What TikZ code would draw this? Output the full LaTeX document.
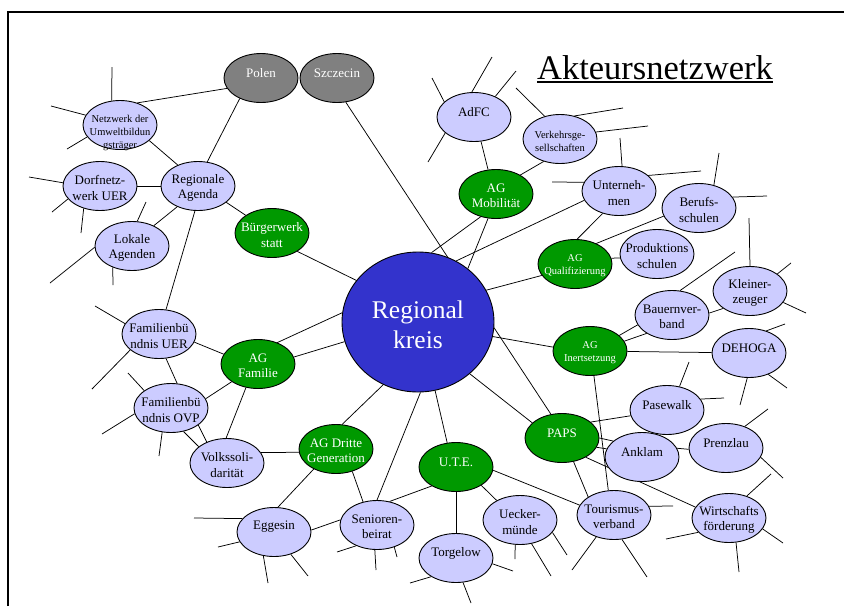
\documentclass[tikz,border=0pt]{standalone}
\usepackage{fontspec}
\setmainfont{Liberation Serif}
\usetikzlibrary{shapes.geometric,backgrounds}
\definecolor{lav}{RGB}{204,204,255}
\definecolor{grn}{RGB}{0,153,0}
\definecolor{gry}{RGB}{128,128,128}
\definecolor{rblue}{RGB}{51,51,204}
\newcommand\fbig{\fontsize{13pt}{15.5pt}\selectfont}
\newcommand\fsmall{\fontsize{10.5pt}{13pt}\selectfont}
\newcommand\stubto[4]{\coordinate (#1) at (#4); \draw[ln] (#2.#3) -- (#1);}
\begin{document}
\begin{tikzpicture}[x=1pt,y=-1pt,
  base/.style={ellipse, draw=black, line width=0.9pt, minimum width=74pt, minimum height=49pt, inner sep=0pt},
  lav/.style={base, fill=lav},
  grn/.style={base, fill=grn},
  gry/.style={base, fill=gry},
  tk/.style={align=center, font=\fbig, text=black},
  tks/.style={align=center, font=\fsmall, text=black},
  tw/.style={align=center, font=\fbig, text=white},
  tws/.style={align=center, font=\fsmall, text=white},
  one/.style={yshift=5pt},
  two/.style={yshift=-2pt},
  ln/.style={line width=0.75pt}]
\useasboundingbox (0,0) rectangle (844,606);
\draw[line width=2pt] (8,606) -- (8,12) -- (844,12);

\node[anchor=base, font=\fontsize{34.5pt}{40pt}\selectfont] (title) at (655,79)
  {\setbox0\hbox{Akteursnetzwerk}\rlap{\rule[-3.8pt]{\wd0}{1.6pt}}\box0};

\node[gry,label={[tw,one]center:Polen}] (polen) at (261,78) {};
\node[gry,label={[tw,one]center:Szczecin}] (szc) at (337,78) {};
\node[lav,label={[tks,yshift=-8pt]center:Netzwerk der\\Umweltbildun\\gsträger}] (netz) at (120,125) {};
\node[lav,label={[tk,two]center:Dorfnetz-\\werk UER}] (dorf) at (100,186) {};
\node[lav,label={[tk,two]center:Regionale\\Agenda}] (ra) at (198,186) {};
\node[lav,label={[tk,two]center:Lokale\\Agenden}] (lok) at (132,246) {};
\node[grn,label={[tw,two]center:Bürgerwerk\\statt}] (bw) at (272,233) {};
\node[ellipse, draw=black, line width=0.9pt, fill=rblue, minimum width=152pt, minimum height=140pt, inner sep=0pt,
  label={[align=center, text=white, font=\fontsize{25.5pt}{30pt}\selectfont, yshift=-2.5pt]center:Regional\\kreis}] (rk) at (418,322) {};
\node[lav,label={[tk,one]center:AdFC}] (adfc) at (474,117) {};
\node[lav,label={[tks,two]center:Verkehrsge-\\sellschaften}] (vg) at (560,139) {};
\node[grn,label={[tw,two]center:AG\\Mobilität}] (mob) at (496,194) {};
\node[lav,label={[tk,two]center:Unterneh-\\men}] (unt) at (619,191) {};
\node[lav,label={[tk,two]center:Berufs-\\schulen}] (beruf) at (699,208) {};
\node[grn,label={[tws,two]center:AG\\Qualifizierung}] (qual) at (575,264) {};
\node[lav,label={[tk,two]center:Produktions\\schulen}] (prod) at (657,254) {};
\node[lav,label={[tk,two]center:Kleiner-\\zeuger}] (klein) at (750,291) {};
\node[lav,label={[tk,two]center:Bauernver-\\band}] (bauer) at (672,315) {};
\node[grn,label={[tws,two]center:AG\\Inertsetzung}] (inert) at (590,351) {};
\node[lav,label={[tk,one]center:DEHOGA}] (dehoga) at (749,353) {};
\node[lav,label={[tk,one]center:Pasewalk}] (pase) at (667,410) {};
\node[grn,label={[tw,one]center:PAPS}] (paps) at (562,438) {};
\node[lav,label={[tk,one]center:Anklam}] (ankl) at (642,457) {};
\node[lav,label={[tk,one]center:Prenzlau}] (prenz) at (726,448) {};
\node[grn,label={[tw,one]center:U.T.E.}] (ute) at (456,467) {};
\node[lav,label={[tk,two]center:Tourismus-\\verband}] (tour) at (614,515) {};
\node[lav,label={[tk,two]center:Wirtschafts\\förderung}] (wirt) at (729,518) {};
\node[lav,label={[tk,two]center:Uecker-\\münde}] (ueck) at (520,520) {};
\node[lav,label={[tk,one]center:Torgelow}] (torg) at (456,558) {};
\node[lav,label={[tk,two]center:Familienbü\\ndnis UER}] (fuer) at (159,334) {};
\node[grn,label={[tw,two]center:AG\\Familie}] (agf) at (258,364) {};
\node[lav,label={[tk,two]center:Familienbü\\ndnis OVP}] (fovp) at (171,408) {};
\node[lav,label={[tk,two]center:Volkssoli-\\darität}] (volk) at (227,463) {};
\node[grn,label={[tw,two]center:AG Dritte\\Generation}] (dritte) at (336,449) {};
\node[lav,label={[tk,one]center:Eggesin}] (egg) at (274,532) {};
\node[lav,label={[tk,two]center:Senioren-\\beirat}] (sen) at (377,525) {};

\begin{scope}[on background layer]
\draw[ln] (netz.52) -- (polen.197);
\draw[ln] (polen.224) -- (ra.69);
\draw[ln] (netz.332) -- (ra.134);
\draw[ln] (dorf) -- (ra);
\draw[ln] (lok.43) -- (ra.225);
\draw[ln] (ra.330) -- (bw.146);
\draw[ln] (ra.263) -- (fuer.74);
\draw[ln] (szc.290) -- (paps.115);
\draw[ln] (bw.324) -- (rk.146);
\draw[ln] (adfc.286) -- (mob.108);
\draw[ln] (vg.234) -- (mob.38);
\draw[ln] (mob.236) -- (rk.79);
\draw[ln] (mob.252) -- (rk.47);
\draw[ln] (unt.195) -- (rk.58);
\draw[ln] (qual.199) -- (rk.25);
\draw[ln] (qual.85) -- (unt.234);
\draw[ln] (qual.44) -- (beruf.193);
\draw[ln] (qual.9) -- (prod.186);
\draw[ln] (bauer.3) -- (klein.213);
\draw[ln] (inert.28) -- (bauer.196);
\draw[ln] (inert.16) -- (bauer.216);
\draw[ln] (inert) -- (dehoga);
\draw[ln] (inert.174) -- (rk.349);
\draw[ln] (rk.315) -- (paps.153);
\draw[ln] (inert.279) -- (tour.103);
\draw[ln] (paps.29) -- (pase.189);
\draw[ln] (paps.0) -- (ankl.151);
\draw[ln] (paps.345) -- (ankl.167);
\draw[ln] (paps.321) -- (wirt.162);
\draw[ln] (paps.296) -- (tour.145);
\draw[ln] (ute.355) -- (tour.164);
\draw[ln] (ankl.14) -- (prenz.182);
\draw[ln] (ute.324) -- (ueck.140);
\draw[ln] (ute) -- (torg);
\draw[ln] (ute.110) -- (rk.284);
\draw[ln] (ute.218) -- (sen.62);
\draw[ln] (rk.272) -- (sen.90);
\draw[ln] (rk.241) -- (dritte.76);
\draw[ln] (dritte.185) -- (volk.17);
\draw[ln] (dritte.222) -- (egg.81);
\draw[ln] (dritte.306) -- (sen.121);
\draw[ln] (egg.3) -- (sen.172);
\draw[ln] (agf.48) -- (rk.173);
\draw[ln] (agf.11) -- (rk.195);
\draw[ln] (fuer.347) -- (agf.164);
\draw[ln] (fuer.286) -- (fovp.76);
\draw[ln] (agf.214) -- (fovp.15);
\draw[ln] (agf.243) -- (volk.92);
\draw[ln] (fovp.298) -- (volk.150);
\draw[ln] (fovp.328) -- (volk.134);

\stubto{s1}{adfc}{153}{432,78}
\stubto{s2}{adfc}{95}{492,57}
\stubto{s3}{adfc}{44}{516,71}
\stubto{s4}{adfc}{209}{428,162}
\stubto{s5}{vg}{124}{516,88}
\stubto{s6}{vg}{58}{623,108}
\stubto{s7}{vg}{11}{648,126}
\stubto{s8}{unt}{83}{620,138}
\stubto{s9}{unt}{28}{701,171}
\stubto{s10}{unt}{166}{552,182}
\stubto{s11}{beruf}{57}{719,153}
\stubto{s12}{beruf}{18}{767,196}
\stubto{s13}{klein}{90}{749,218}
\stubto{s14}{klein}{32}{791,263}
\stubto{s15}{klein}{341}{806,313}
\stubto{s16}{bauer}{72}{735,252}
\stubto{s17}{dehoga}{52}{785,324}
\stubto{s18}{dehoga}{312}{787,388}
\stubto{s19}{dehoga}{266}{740,405}
\stubto{s20}{pase}{62}{689,362}
\stubto{s21}{pase}{18}{724,398}
\stubto{s22}{prenz}{49}{768,409}
\stubto{s23}{prenz}{345}{783,478}
\stubto{s24}{wirt}{51}{771,474}
\stubto{s25}{wirt}{342}{783,543}
\stubto{s26}{wirt}{286}{739,572}
\stubto{s27}{wirt}{205}{666,539}
\stubto{s28}{tour}{14}{673,506}
\stubto{s29}{tour}{231}{572,570}
\stubto{s30}{tour}{288}{647,577}
\stubto{s31}{ueck}{259}{515,559}
\stubto{s32}{ueck}{296}{551,576}
\stubto{s33}{ueck}{339}{567,555}
\stubto{s34}{torg}{351}{513,571}
\stubto{s35}{torg}{286}{471,603}
\stubto{s36}{torg}{217}{410,583}
\stubto{s37}{sen}{225}{337,552}
\stubto{s38}{sen}{265}{376,570}
\stubto{s39}{sen}{308}{397,557}
\stubto{s40}{egg}{157}{194,518}
\stubto{s41}{egg}{196}{218,547}
\stubto{s42}{egg}{246}{268,583}
\stubto{s43}{egg}{307}{308,576}
\stubto{s44}{fuer}{163}{95,306}
\stubto{s45}{fuer}{209}{92,389}
\stubto{s46}{fovp}{147}{128,373}
\stubto{s47}{fovp}{189}{102,434}
\stubto{s48}{fovp}{250}{159,456}
\stubto{s49}{netz}{109}{112,67}
\stubto{s50}{netz}{164}{51,106}
\stubto{s51}{netz}{200}{67,149}
\stubto{s52}{dorf}{175}{29,177}
\stubto{s53}{dorf}{202}{52,212}
\stubto{s54}{dorf}{234}{81,233}
\stubto{s55}{lok}{78}{146,202}
\stubto{s56}{lok}{182}{50,283}
\stubto{s57}{lok}{228}{113,285}
\end{scope}
\end{tikzpicture}
\end{document}
